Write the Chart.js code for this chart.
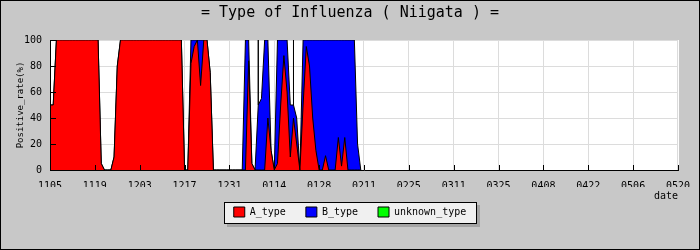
<!DOCTYPE html>
<html>
<head>
<meta charset="utf-8">
<title>Type of Influenza (Niigata)</title>
<script src="https://cdn.jsdelivr.net/npm/chart.js@4.4.1/dist/chart.umd.min.js"></script>
<style>
  html, body { margin: 0; padding: 0; background: #c8c8c8; overflow: hidden; }
  canvas { display: block; }
</style>
</head>
<body>
<canvas id="graficoTipos" width="700" height="250"></canvas>
<script>
// Etiquetas del eje X (cada 14 días desde 1105)
const etiquetasFecha = ['1105','1119','1203','1217','1231','0114','0128','0211',
                        '0225','0311','0325','0408','0422','0506','0520'];

// Día (desde 1105) de cada dato; los días repetidos son picos del mismo día
const dias = [
     0,  1,  2,  3,  4,  5,  6,  7,  8,  9, 10, 11, 12, 13, 14, 15, 16, 17, 18, 19,
    20, 21, 22, 23, 24, 25, 26, 27, 28, 29, 30, 31, 32, 33, 34, 35, 36, 37, 38, 39,
    40, 41, 42, 43, 44, 45, 46, 47, 48, 49, 50, 51, 52, 53, 54, 55, 56, 57, 58, 59,
    60, 61, 62, 63, 64, 65, 65, 65, 66, 67, 68, 69, 70, 71, 72, 73, 74, 75, 76, 76,
    76, 77, 78, 79, 80, 81, 82, 83, 84, 85, 86, 87, 88, 89, 90, 91, 92, 93, 94, 95,
    96, 97
];

// Porcentaje tipo A
const aType = [
    50, 50,100,100,100,100,100,100,100,100,100,100,100,100,100,100,  5,  0,  0,  0,
    10, 80,100,100,100,100,100,100,100,100,100,100,100,100,100,100,100,100,100,100,
   100,100,  0,  0, 82, 95,100, 65,100,100, 75,  0,  0,  0,  0,  0,  0,  0,  0,  0,
     0,  0, 84,  5,  0,  0,  0,  0,  0,  0, 40, 15,  0,  5, 50, 88, 60, 10, 40, 40,
    40, 20,  0, 50, 95, 80, 40, 15,  0,  0, 11,  0,  0,  0, 25,  3, 25,  0,  0,  0,
     0,  0
];

// Porcentaje tipo B
const bType = [
     0,  0,  0,  0,  0,  0,  0,  0,  0,  0,  0,  0,  0,  0,  0,  0,  0,  0,  0,  0,
     0,  0,  0,  0,  0,  0,  0,  0,  0,  0,  0,  0,  0,  0,  0,  0,  0,  0,  0,  0,
     0,  0,  0,  0, 18,  5,  0, 35,  0,  0,  0,  0,  0,  0,  0,  0,  0,  0,  0,  0,
     0,100, 16,  0,  0, 50,100, 50, 55,100, 60,  0,  0, 95, 50, 12, 40, 40, 10, 60,
    10, 20,  0, 50,  5, 20, 60, 85,100,100, 89,100,100,100, 75, 97, 75,100,100,100,
    20,  0
];

// Tipo desconocido: sin datos
const unknownType = [];

const fuente = "'DejaVu Sans Mono', monospace";
Chart.defaults.font.family = fuente;
Chart.defaults.color = '#000';

const puntos = (valores) => dias.map((d, i) => ({ x: d, y: valores[i] }));
// B se apila sobre A: se dibuja el total detrás de A
const totalAB = aType.map((a, i) => a + bType[i]);

// Fondo, área blanca, marco de la leyenda, ejes y marcas hacia dentro
const marcoGrafico = {
    id: 'marcoGrafico',
    beforeDraw(chart) {
        const { ctx, chartArea: a, legend } = chart;
        ctx.save();
        ctx.fillStyle = '#c8c8c8';
        ctx.fillRect(0, 0, chart.width, chart.height);
        ctx.fillStyle = '#ffffff';
        ctx.fillRect(a.left, a.top, a.right - a.left + 1, a.bottom - a.top);
        ctx.strokeStyle = '#000';
        ctx.lineWidth = 1;
        ctx.strokeRect(0.5, 0.5, chart.width - 1, chart.height - 1);

        const hb = legend.legendHitBoxes;
        if (hb && hb.length) {
            const ult = hb[hb.length - 1];
            const x0 = Math.round(hb[0].left - 10);
            const x1 = Math.round(ult.left + ult.width + 10);
            const y0 = Math.round(hb[0].top - 5);
            const y1 = Math.round(hb[0].top + hb[0].height + 6);
            ctx.fillStyle = '#a4a4a4';
            ctx.fillRect(x0 + 3, y0 + 3, x1 - x0 + 1, y1 - y0 + 1);
            ctx.fillStyle = '#f0f0f0';
            ctx.fillRect(x0, y0, x1 - x0, y1 - y0);
            ctx.strokeRect(x0 + 0.5, y0 + 0.5, x1 - x0, y1 - y0);
        }
        ctx.restore();
    },
    afterDatasetsDraw(chart) {
        const { ctx, chartArea: a, scales: { x, y } } = chart;
        ctx.save();
        ctx.strokeStyle = '#000';
        ctx.lineWidth = 1;
        ctx.beginPath();
        ctx.moveTo(a.left + 0.5, a.top);
        ctx.lineTo(a.left + 0.5, a.bottom + 0.5);
        ctx.lineTo(a.right + 1, a.bottom + 0.5);
        // marcas del eje Y cada 10
        y.ticks.forEach(t => {
            const py = Math.round(y.getPixelForValue(t.value)) + 0.5;
            ctx.moveTo(a.left, py);
            ctx.lineTo(a.left + 6, py);
        });
        // marcas del eje X en cada etiqueta
        x.ticks.forEach(t => {
            const px = Math.round(x.getPixelForValue(t.value)) + 0.5;
            ctx.moveTo(px, a.bottom);
            ctx.lineTo(px, a.bottom - 5);
        });
        ctx.stroke();
        ctx.restore();
    }
};

new Chart(document.getElementById('graficoTipos'), {
    type: 'line',
    data: {
        datasets: [
            {
                label: 'A_type',
                data: puntos(aType),
                backgroundColor: '#ff0000',
                borderColor: '#000',
                borderWidth: 1,
                fill: 'origin'
            },
            {
                label: 'B_type',
                data: puntos(totalAB),
                backgroundColor: '#0000ff',
                borderColor: '#000',
                borderWidth: 1,
                fill: 'origin'
            },
            {
                label: 'unknown_type',
                data: unknownType,
                backgroundColor: '#00ff00',
                borderColor: '#000',
                borderWidth: 1,
                fill: 'origin'
            }
        ]
    },
    options: {
        responsive: false,
        animation: false,
        events: [],
        elements: {
            point: { radius: 0 },
            line: { tension: 0 }
        },
        layout: { padding: { left: 0, right: 0, top: 0, bottom: 23 } },
        plugins: {
            title: {
                display: true,
                text: '= Type of Influenza ( Niigata ) =',
                font: { size: 15, weight: 'normal' },
                color: '#000',
                padding: { top: 4, bottom: 18 }
            },
            legend: {
                position: 'bottom',
                labels: {
                    boxWidth: 11,
                    boxHeight: 10,
                    padding: 20,
                    color: '#000',
                    font: { size: 10 }
                }
            },
            tooltip: { enabled: false }
        },
        scales: {
            x: {
                type: 'linear',
                min: 0,
                max: 196,
                afterFit: (s) => { s.height = 17; },
                grid: { color: '#dcdcdc', drawTicks: false },
                border: { display: false },
                ticks: {
                    stepSize: 14,
                    autoSkip: false,
                    maxRotation: 0,
                    padding: 10,
                    font: { size: 10 },
                    callback: (v) => etiquetasFecha[Math.round(v / 14)] ?? ''
                },
                title: {
                    display: true,
                    text: 'date',
                    align: 'end',
                    font: { size: 10 },
                    padding: { top: 0, bottom: -15 }
                }
            },
            y: {
                min: 0,
                max: 100,
                afterFit: (s) => { s.width = 50; },
                grid: {
                    drawTicks: false,
                    color: (c) => (c.tick && c.tick.value % 20 === 0) ? '#dcdcdc' : 'rgba(0,0,0,0)'
                },
                border: { display: false },
                ticks: {
                    stepSize: 10,
                    padding: 8,
                    font: { size: 10 },
                    callback: (v) => (v % 20 === 0 ? v : '')
                },
                title: {
                    display: true,
                    text: 'Positive_rate(%)',
                    font: { size: 9 },
                    padding: { top: 15, bottom: 0 }
                }
            },
            // margen derecho vacío
            margen: {
                type: 'linear',
                position: 'right',
                afterFit: (s) => { s.width = 20; },
                grid: { display: false },
                border: { display: false },
                ticks: { display: false }
            }
        }
    },
    plugins: [marcoGrafico]
});
</script>
</body>
</html>
